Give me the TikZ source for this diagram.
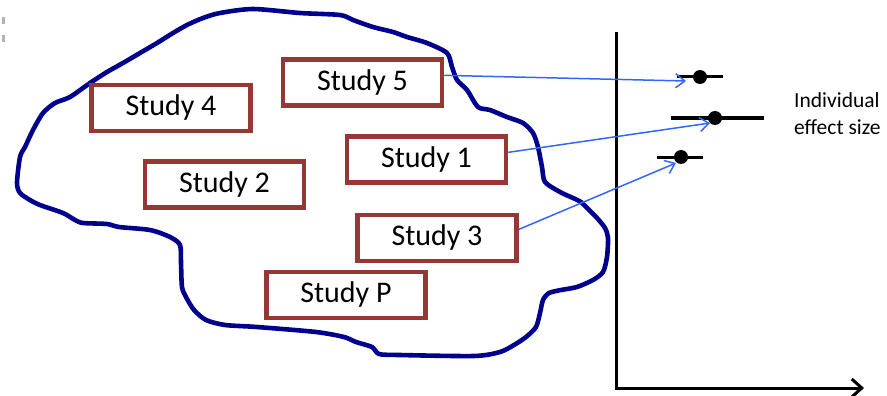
\documentclass[tikz,border=0pt]{standalone}
\usepackage{fontspec}
\setmainfont{Carlito}
\usetikzlibrary{arrows.meta}
\definecolor{boxred}{RGB}{149,55,53}
\definecolor{blobblue}{RGB}{0,0,140}
\definecolor{arrblue}{RGB}{51,102,255}
\tikzset{
  studybox/.style={draw=boxred,line width=4.5pt,fill=white,minimum width=159pt,minimum height=46pt,inner sep=0pt,font=\fontsize{30}{34}\selectfont},
  link/.style={draw=arrblue,line width=1.5pt,-{Straight Barb[length=9pt,width=14pt,line width=1.5pt]}},
  ci/.style={line width=3pt,black},
  dot/.style={circle,fill=black,minimum size=14pt,inner sep=0pt}
}
\begin{document}
\begin{tikzpicture}[x=1pt,y=-1pt]
\useasboundingbox (0,0) rectangle (887,396);
% stray marks
\draw[gray!60,line width=3pt] (3.5,17) -- (3.5,24) (3.5,35) -- (3.5,42);
% blob
\draw[blobblue,line width=4.6pt,line join=round] plot[smooth cycle,tension=0.45] coordinates {
(253,9)(300,13)(340,15)(353,20)(373,27)(393,32)(407,37)(427,43)(447,53)(452,67)(457,80)(467,90)(478,107)(490,110)(507,117)(523,123)(533,133)(538,147)(542,167)(545,182)(560,192)(573,198)(581,202)(589,210)(597,218)(605,228)(608,238)(607,257)(603,272)(593,280)(577,287)(561,290)(549,293)(543,300)(540,313)(536,327)(526,337)(514,345)(500,352)(474,356)(399,355)(379,354)(372,347)(356,342)(344,337)(316,332)(257,327)(225,325)(206,320)(194,310)(186,297)(182,287)(181,263)(180,245)(170,237)(150,230)(119,227)(107,224)(83,223)(75,220)(63,213)(40,205)(30,200)(20,193)(17,183)(20,157)(25,147)(33,130)(43,113)(55,103)(70,97)(90,83)(107,72)(123,63)(140,53)(157,43)(173,33)(187,25)(203,18)(220,13)};
% study boxes
\node[studybox] (s4) at (171,108) {Study 4};
\node[studybox] (s5) at (362.5,82.5) {Study 5};
\node[studybox] (s1) at (426.5,159.5) {Study 1};
\node[studybox] (s2) at (224.5,184.5) {Study 2};
\node[studybox] (s3) at (437,238) {Study 3};
\node[studybox] (sP) at (346,295) {Study P};
% axes
\coordinate (ytop) at (616,32);
\coordinate (origin) at (616,388);
\coordinate (xend) at (864,388);
\draw[line width=3pt,-{Straight Barb[length=10pt,width=18pt,line width=3pt]}] (ytop) -- (origin) -- (xend);
% effect sizes
\coordinate (e1l) at (677,77); \coordinate (e1r) at (723,77);
\coordinate (e2l) at (671,118); \coordinate (e2r) at (764,118);
\coordinate (e3l) at (657,157); \coordinate (e3r) at (703,157);
\draw[ci] (e1l) -- (e1r);
\draw[ci] (e2l) -- (e2r);
\draw[ci] (e3l) -- (e3r);
\node[dot] (d1) at (700,77) {};
\node[dot] (d2) at (715,118) {};
\node[dot] (d3) at (681,157) {};
% arrows
\coordinate (t1) at (686,81);
\coordinate (t2) at (710,123);
\coordinate (t3) at (676,163);
\draw[link] (s5.5) -- (t1);
\draw[link] (s1.5) -- (t2);
\draw[link] (s3.6) -- (t3);
% label
\node[anchor=north west,align=left,inner sep=0pt,font=\fontsize{21.5}{27}\selectfont] (lab) at (794,92) {Individual\\effect size};
\end{tikzpicture}
\end{document}
